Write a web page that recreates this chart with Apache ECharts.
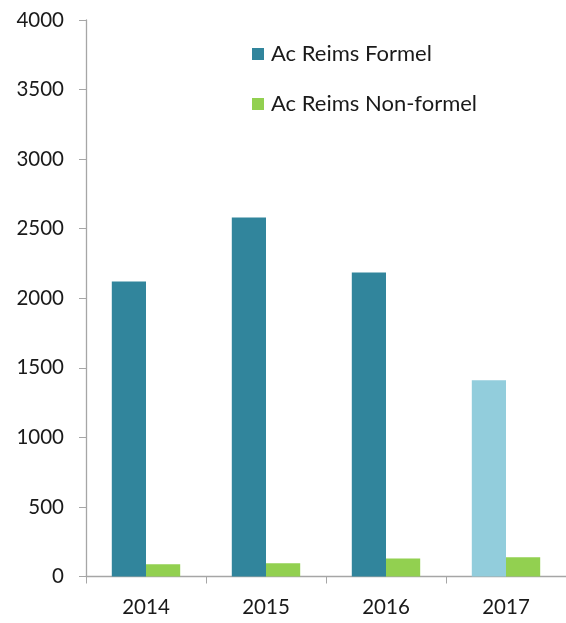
<!DOCTYPE html>
<html><head><meta charset="utf-8">
<script src="https://cdn.jsdelivr.net/npm/echarts@6/dist/echarts.min.js"></script>
<style>html,body{margin:0;padding:0;background:#fff}#c{width:566px;height:623px}</style>
</head><body><div id="c"></div>
<script>
const categories = ['2014', '2015', '2016', '2017'];
const formel = [2120, 2580, 2185, 1410];
const nonFormel = [88, 96, 130, 138];
const yTicks = [0, 500, 1000, 1500, 2000, 2500, 3000, 3500, 4000];

const formelColor = '#31859C';
const formelLight = '#92CDDC';
const nonColor = '#92D050';
const font = 'Lato';

const chart = echarts.init(document.getElementById('c'));
chart.setOption({
  animation: false,
  backgroundColor: '#fff',
  textStyle: { fontFamily: font },
  grid: { left: 86, right: 0, top: 20, bottom: 46.5, containLabel: false },
  legend: {
    orient: 'vertical', left: 247, top: 38, itemGap: 28,
    itemWidth: 12, itemHeight: 12, icon: 'rect',
    textStyle: { fontSize: 22, color: '#1a1a1a', fontFamily: font, padding: [0,0,0,2] },
    data: ['Ac Reims Formel', 'Ac Reims Non-formel']
  },
  xAxis: {
    type: 'category', data: categories,
    axisLine: { lineStyle: { color: '#a6a6a6', width: 1.3 } },
    axisTick: { show: true, length: 7, lineStyle: { color: '#a6a6a6' } },
    axisLabel: { fontSize: 20.5, color: '#1a1a1a', margin: 20, fontFamily: font }
  },
  yAxis: {
    type: 'value', min: yTicks[0], max: yTicks[yTicks.length - 1], interval: 500,
    axisLine: { show: true, lineStyle: { color: '#a6a6a6', width: 1.3 } },
    axisTick: { show: true, length: 7, lineStyle: { color: '#a6a6a6' } },
    splitLine: { show: false },
    axisLabel: { fontSize: 20.5, color: '#1a1a1a', margin: 22, fontFamily: font, formatter: v => String(v) }
  },
  series: [
    {
      name: 'Ac Reims Formel', type: 'bar', barGap: '0%', barCategoryGap: '43%',
      itemStyle: { color: formelColor },
      data: formel.map((v, i) => i === formel.length - 1 ? { value: v, itemStyle: { color: formelLight } } : v)
    },
    {
      name: 'Ac Reims Non-formel', type: 'bar',
      itemStyle: { color: nonColor },
      data: nonFormel
    }
  ]
});
</script></body></html>
